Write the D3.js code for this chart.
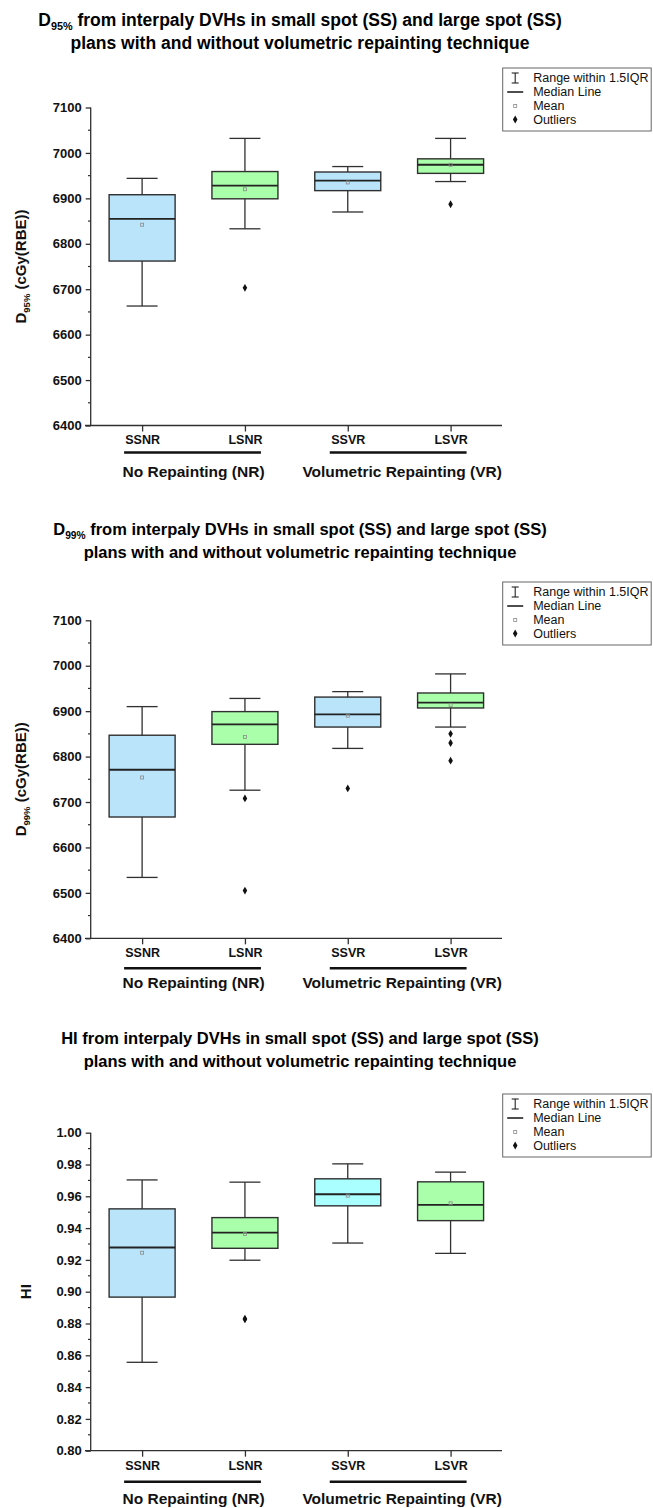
<!DOCTYPE html>
<html>
<head>
<meta charset="utf-8">
<script src="https://cdn.jsdelivr.net/npm/d3@7"></script>
<style>
  body { margin: 0; background: #fff; }
  svg { display: block; font-family: "Liberation Sans", Arial, sans-serif; }
</style>
</head>
<body>
<svg id="chart" width="653" height="1508"></svg>
<script>
// categories and groups
const categories = ["SSNR", "LSNR", "SSVR", "LSVR"];
const groupLabels = ["No Repainting (NR)", "Volumetric Repainting (VR)"];
const groupMembers = [["SSNR", "LSNR"], ["SSVR", "LSVR"]];
const legendLabels = ["Range within 1.5IQR", "Median Line", "Mean", "Outliers"];

// box stats per category: [whisker low, q1, median, q3, whisker high, mean]
const d95Box = [
  [6663, 6762, 6855, 6908, 6944, 6842],
  [6833, 6899, 6928, 6959, 7032, 6920],
  [6870, 6917, 6939, 6958, 6970, 6935],
  [6937, 6955, 6974, 6987, 7032, 6974]
];
const d95Outliers = [[], [6703], [], [6887]];

const d99Box = [
  [6534, 6667, 6771, 6847, 6910, 6754],
  [6726, 6827, 6871, 6899, 6928, 6843],
  [6818, 6865, 6893, 6931, 6943, 6890],
  [6865, 6907, 6919, 6940, 6982, 6914]
];
const d99Outliers = [[], [6708, 6505], [6730], [6850, 6830, 6791]];

const hiBox = [
  [0.8556, 0.8966, 0.9278, 0.9521, 0.9703, 0.9245],
  [0.9198, 0.9273, 0.9372, 0.9466, 0.9689, 0.9363],
  [0.9306, 0.9540, 0.9613, 0.9710, 0.9804, 0.9604],
  [0.9241, 0.9447, 0.9546, 0.9691, 0.9752, 0.9556]
];
const hiOutliers = [[], [0.8830, 0.8826], [], []];

const dTicks = [6400, 6500, 6600, 6700, 6800, 6900, 7000, 7100];
const hiTicks = [0.80, 0.82, 0.84, 0.86, 0.88, 0.90, 0.92, 0.94, 0.96, 0.98, 1.00];

const blue = "#b9e4fa", green = "#aaffaa", cyan = "#aaffff";
const ink = "#303030";

const svg = d3.select("#chart");

const x = d3.scalePoint()
  .domain(categories)
  .range([90.7, 502])
  .padding(0.5);

const boxW = 66, capW = 31;

function drawPanel(opt) {
  const g = svg.append("g");
  const yTop = opt.axisTop, yBot = opt.axisTop + 318;

  const y = d3.scaleLinear().domain(opt.domain).range([yBot, yTop]);

  // title
  const t1 = g.append("text")
    .attr("x", 300).attr("y", opt.titleY)
    .attr("text-anchor", "middle")
    .style("font-weight", "bold").style("font-size", opt.titleSize + "px");
  t1.append("tspan").text(opt.titleHead);
  if (opt.titleSub) {
    t1.append("tspan").attr("dy", 4).style("font-size", (opt.titleSize * 0.62) + "px").text(opt.titleSub);
    t1.append("tspan").attr("dy", -4).text(" " + opt.titleRest);
  } else {
    t1.append("tspan").text(" " + opt.titleRest);
  }
  g.append("text")
    .attr("x", 300).attr("y", opt.titleY + 23)
    .attr("text-anchor", "middle")
    .style("font-weight", "bold").style("font-size", opt.titleSize + "px")
    .text("plans with and without volumetric repainting technique");

  // y axis
  const yAxis = d3.axisLeft(y)
    .tickValues(opt.ticks)
    .tickSize(5)
    .tickPadding(4)
    .tickFormat(opt.fmt);
  const ya = g.append("g").attr("transform", "translate(90.7,0)").call(yAxis);
  ya.select(".domain").attr("d", `M0,${yTop}V${yBot}`);
  ya.selectAll("path, line").attr("stroke", ink).attr("stroke-width", 1.3);
  ya.selectAll("text").style("font-size", "13px").style("font-weight", "bold").attr("fill", "#111");

  // minor ticks
  g.append("g").selectAll("line").data(opt.minor).join("line")
    .attr("x1", 88).attr("x2", 90.7)
    .attr("y1", d => y(d)).attr("y2", d => y(d))
    .attr("stroke", ink).attr("stroke-width", 1.2);

  // x axis
  const xa = g.append("g").attr("transform", `translate(0,${yBot})`)
    .call(d3.axisBottom(x).tickSize(6).tickPadding(4));
  xa.select(".domain").attr("d", "M85,0H502");
  xa.selectAll("path, line").attr("stroke", ink).attr("stroke-width", 1.3);
  xa.selectAll("text").style("font-size", "12.5px").style("font-weight", "bold").attr("fill", "#111");

  // group underlines and labels
  groupMembers.forEach((m, i) => {
    const x0 = x(m[0]) - 18, x1 = x(m[1]) + 16;
    g.append("line")
      .attr("x1", x0).attr("x2", x1)
      .attr("y1", yBot + opt.lineDy).attr("y2", yBot + opt.lineDy)
      .attr("stroke", "#111").attr("stroke-width", 2.5);
    g.append("text")
      .attr("x", (x(m[0]) + x(m[1])) / 2 + (i === 0 ? 0 : 3))
      .attr("y", yBot + opt.groupDy)
      .attr("text-anchor", "middle")
      .style("font-size", "15.5px").style("font-weight", "bold").attr("fill", "#111")
      .text(groupLabels[i]);
  });

  // y axis title
  const yl = g.append("text")
    .attr("transform", `translate(${opt.ylabelX},${(yTop + yBot) / 2}) rotate(-90)`)
    .attr("text-anchor", "middle")
    .style("font-size", "15px").style("font-weight", "bold").attr("fill", "#111");
  yl.append("tspan").text(opt.ylabelHead);
  if (opt.ylabelSub) {
    yl.append("tspan").attr("dy", 4).style("font-size", "9.5px").text(opt.ylabelSub);
    yl.append("tspan").attr("dy", -4).text(" (cGy(RBE))");
  }

  // boxes
  const boxes = g.append("g").selectAll("g").data(opt.box).join("g")
    .attr("transform", (d, i) => `translate(${x(categories[i])},0)`);

  boxes.append("line")
    .attr("x1", 0).attr("x2", 0)
    .attr("y1", d => y(d[0])).attr("y2", d => y(d[4]))
    .attr("stroke", ink).attr("stroke-width", 1.3);
  boxes.append("line")
    .attr("x1", -capW / 2).attr("x2", capW / 2)
    .attr("y1", d => y(d[0])).attr("y2", d => y(d[0]))
    .attr("stroke", ink).attr("stroke-width", 1.3);
  boxes.append("line")
    .attr("x1", -capW / 2).attr("x2", capW / 2)
    .attr("y1", d => y(d[4])).attr("y2", d => y(d[4]))
    .attr("stroke", ink).attr("stroke-width", 1.3);
  boxes.append("rect")
    .attr("x", -boxW / 2).attr("width", boxW)
    .attr("y", d => y(d[3])).attr("height", d => y(d[1]) - y(d[3]))
    .attr("fill", (d, i) => opt.fills[i])
    .attr("stroke", ink).attr("stroke-width", 1.4);
  boxes.append("line")
    .attr("x1", -boxW / 2).attr("x2", boxW / 2)
    .attr("y1", d => y(d[2])).attr("y2", d => y(d[2]))
    .attr("stroke", "#222").attr("stroke-width", 1.8);
  boxes.append("rect")
    .attr("x", -1.5).attr("width", 3)
    .attr("y", d => y(d[5]) - 1.5).attr("height", 3)
    .attr("fill", "none").attr("stroke", "#8a8a8a").attr("stroke-width", 0.8);

  const diamond = d3.symbol(d3.symbolDiamond, 18);
  boxes.each(function(d, i) {
    d3.select(this).selectAll("path.out").data(opt.outliers[i]).join("path")
      .attr("class", "out")
      .attr("d", diamond)
      .attr("transform", v => `translate(0,${y(v)})`)
      .attr("fill", "#111");
  });

  // legend
  const lg = g.append("g").attr("transform", `translate(502.7,${opt.legendY})`);
  lg.append("rect").attr("x", 0).attr("y", 0).attr("width", 148.5).attr("height", 63)
    .attr("fill", "#fff").attr("stroke", "#666").attr("stroke-width", 1);
  const rowY = [10, 24, 38, 51.5];
  legendLabels.forEach((s, i) => {
    lg.append("text").attr("x", 30.5).attr("y", rowY[i] + 4.3)
      .style("font-size", "12.5px").attr("fill", "#111").text(s);
  });
  const sx = 12.5;
  lg.append("path")
    .attr("d", `M${sx - 3.5},${rowY[0] - 5}H${sx + 3.5}M${sx},${rowY[0] - 5}V${rowY[0] + 5}M${sx - 3.5},${rowY[0] + 5}H${sx + 3.5}`)
    .attr("stroke", "#111").attr("stroke-width", 1).attr("fill", "none");
  lg.append("line").attr("x1", 4.5).attr("x2", 20.5).attr("y1", rowY[1]).attr("y2", rowY[1])
    .attr("stroke", "#222").attr("stroke-width", 1.6);
  lg.append("rect").attr("x", sx - 1.5).attr("y", rowY[2] - 1.5).attr("width", 3).attr("height", 3)
    .attr("fill", "none").attr("stroke", "#8a8a8a").attr("stroke-width", 0.8);
  lg.append("path").attr("d", diamond).attr("transform", `translate(${sx},${rowY[3]})`).attr("fill", "#111");
}

drawPanel({
  titleY: 26, titleSize: 17.5,
  titleHead: "D", titleSub: "95%", titleRest: "from interpaly DVHs in small spot (SS) and large spot (SS)",
  axisTop: 107.5, domain: [6400, 7100], ticks: dTicks, fmt: d3.format("d"),
  minor: d3.range(6450, 7100, 100),
  ylabelX: 26, ylabelHead: "D", ylabelSub: "95%",
  lineDy: 27, groupDy: 51,
  box: d95Box, outliers: d95Outliers, fills: [blue, green, blue, green],
  legendY: 68
});

drawPanel({
  titleY: 535, titleSize: 16.5,
  titleHead: "D", titleSub: "99%", titleRest: "from interpaly DVHs in small spot (SS) and large spot (SS)",
  axisTop: 620.3, domain: [6400, 7100], ticks: dTicks, fmt: d3.format("d"),
  minor: d3.range(6450, 7100, 100),
  ylabelX: 26, ylabelHead: "D", ylabelSub: "99%",
  lineDy: 30, groupDy: 50,
  box: d99Box, outliers: d99Outliers, fills: [blue, green, blue, green],
  legendY: 582
});

drawPanel({
  titleY: 1044, titleSize: 16.5,
  titleHead: "HI", titleSub: null, titleRest: "from interpaly DVHs in small spot (SS) and large spot (SS)",
  axisTop: 1132.7, domain: [0.80, 1.00], ticks: hiTicks, fmt: d3.format(".2f"),
  minor: d3.range(0.81, 1.0, 0.02),
  ylabelX: 31, ylabelHead: "HI", ylabelSub: null,
  lineDy: 31, groupDy: 53,
  box: hiBox, outliers: hiOutliers, fills: [blue, green, cyan, green],
  legendY: 1094
});
</script>
</body>
</html>
